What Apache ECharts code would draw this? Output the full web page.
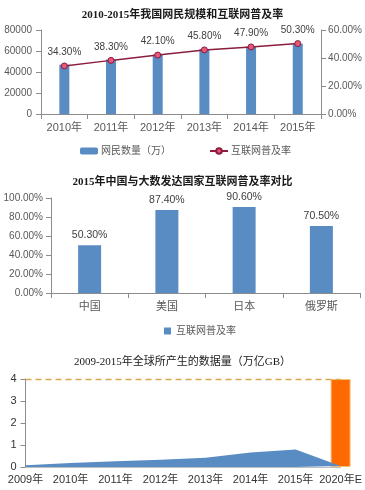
<!DOCTYPE html>
<html><head><meta charset="utf-8">
<script src="https://cdn.jsdelivr.net/npm/echarts@6/dist/echarts.min.js"></script>
<style>html,body{margin:0;padding:0;background:#fff;}#c{width:365px;height:490px;}</style>
</head><body><div id="c"></div>
<script>
// Chart 1 data
const years1 = ['2010年','2011年','2012年','2013年','2014年','2015年'];
const netizens = [47000, 52000, 56500, 62000, 64200, 67000];
const penetration = [34.3, 38.3, 42.1, 45.8, 47.9, 50.3];
// Chart 2 data
const countries = ['中国','美国','日本','俄罗斯'];
const countryRates = [50.3, 87.4, 90.6, 70.5];
// Chart 3 data
const years3 = ['2009年','2010年','2011年','2012年','2013年','2014年','2015年','2020年E'];
const dataVolume = [0.08, 0.18, 0.26, 0.33, 0.42, 0.66, 0.8, 0.05];
const dataVolume2020 = [null, null, null, null, null, null, null, 4];

const SANS = "'Liberation Sans','Noto Sans CJK SC',sans-serif";
const SERIF = "'Liberation Serif','Noto Sans CJK SC',serif";
const BLUE = '#5a8cc4';
const AX = '#8c8c8c';
const LBL = '#595959';

const chart = echarts.init(document.getElementById('c'), null, {renderer:'canvas'});
const pct2 = v => v.toFixed(2) + '%';

chart.setOption({
  animation: false,
  backgroundColor: '#fff',
  textStyle: {fontFamily: SANS},
  title: [
    {text: '2010-2015年我国网民规模和互联网普及率', left: 'center', top: 5,
     textStyle: {fontFamily: SERIF, fontSize: 11, fontWeight: 'bold', color: '#1a1a1a'}},
    {text: '2015年中国与大数发达国家互联网普及率对比', left: 'center', top: 172,
     textStyle: {fontFamily: SERIF, fontSize: 11, fontWeight: 'bold', color: '#1a1a1a'}},
    {text: '2009-2015年全球所产生的数据量（万亿GB）', left: 'center', top: 352,
     textStyle: {fontFamily: SERIF, fontSize: 11, fontWeight: 'normal', color: '#1a1a1a'}}
  ],
  legend: [
    {left: 75, top: 141, itemWidth: 18, itemHeight: 7, itemGap: 38,
     data: ['网民数量（万）', '互联网普及率'],
     textStyle: {fontSize: 10, color: LBL, padding: [0,0,0,-2]}},
    {left: 159, top: 321, itemWidth: 7, itemHeight: 7,
     data: [{name: '互联网普及率 ', icon: 'rect'}],
     textStyle: {fontSize: 10, color: LBL}}
  ],
  grid: [
    {left: 41, top: 30, width: 283, height: 84},
    {left: 51, top: 198, width: 309, height: 95},
    {left: 25.5, top: 379, width: 317, height: 88}
  ],
  xAxis: [
    {type: 'category', gridIndex: 0, data: years1,
     axisLine: {lineStyle: {color: AX}}, axisTick: {show: true, lineStyle: {color: AX}},
     axisLabel: {color: LBL, fontSize: 11, margin: 8}},
    {type: 'category', gridIndex: 1, data: countries,
     axisLine: {lineStyle: {color: AX}}, axisTick: {show: true, lineStyle: {color: AX}},
     axisLabel: {color: LBL, fontSize: 11, margin: 8}},
    {type: 'category', gridIndex: 2, data: years3, boundaryGap: false,
     axisLine: {lineStyle: {color: '#bfbfbf'}}, axisTick: {show: false},
     axisLabel: {color: '#333', fontSize: 11, margin: 7, interval: 0}}
  ],
  yAxis: [
    {type: 'value', gridIndex: 0, min: 0, max: 80000, interval: 20000,
     axisLine: {show: true, lineStyle: {color: AX}}, axisTick: {show: true, lineStyle: {color: AX}},
     splitLine: {show: false}, axisLabel: {color: LBL, fontSize: 10, margin: 9, formatter: v => String(v)}},
    {type: 'value', gridIndex: 0, min: 0, max: 60, interval: 20, position: 'right',
     axisLine: {show: true, lineStyle: {color: AX}}, axisTick: {show: true, lineStyle: {color: AX}},
     splitLine: {show: false}, axisLabel: {color: LBL, fontSize: 10, margin: 7, formatter: pct2}},
    {type: 'value', gridIndex: 1, min: 0, max: 100, interval: 20,
     axisLine: {show: true, lineStyle: {color: AX}}, axisTick: {show: true, lineStyle: {color: AX}},
     splitLine: {show: false}, axisLabel: {color: LBL, fontSize: 10, margin: 8, formatter: pct2}},
    {type: 'value', gridIndex: 2, min: 0, max: 4, interval: 1,
     axisLine: {show: true, lineStyle: {color: AX}}, axisTick: {show: true, lineStyle: {color: AX}},
     splitLine: {show: false}, axisLabel: {color: '#333', fontSize: 11, margin: 9}}
  ],
  series: [
    {name: '网民数量（万）', type: 'bar', xAxisIndex: 0, yAxisIndex: 0, data: netizens,
     barWidth: 10, itemStyle: {color: BLUE}},
    {name: '互联网普及率', type: 'line', xAxisIndex: 0, yAxisIndex: 1, data: penetration,
     symbol: 'circle', symbolSize: 6,
     lineStyle: {color: '#8b1d3d', width: 1.5},
     itemStyle: {color: '#e8577a', borderColor: '#8b1d3d', borderWidth: 1},
     label: {show: true, position: 'top', distance: 5, fontSize: 10, color: '#404040',
             formatter: p => pct2(p.value)}},
    {name: '互联网普及率 ', type: 'bar', xAxisIndex: 1, yAxisIndex: 2, data: countryRates,
     barWidth: 23, itemStyle: {color: BLUE},
     label: {show: true, position: 'top', distance: 5, fontSize: 10.5, color: '#404040',
             formatter: p => pct2(p.value)}},
    {name: '数据量', type: 'line', xAxisIndex: 2, yAxisIndex: 3, data: dataVolume,
     showSymbol: false, symbol: 'none', lineStyle: {width: 0}, areaStyle: {color: BLUE, opacity: 1},
     markLine: {silent: true, symbol: 'none', label: {show: false},
                lineStyle: {color: '#d9a94f', type: [6, 4], width: 1.3},
                data: [{yAxis: 4}]}},
    {name: '2020', type: 'bar', xAxisIndex: 2, yAxisIndex: 3, data: dataVolume2020,
     barWidth: 20, itemStyle: {color: '#ff6a00', borderColor: '#f3c27a', borderWidth: 1}}
  ]
});
</script></body></html>
